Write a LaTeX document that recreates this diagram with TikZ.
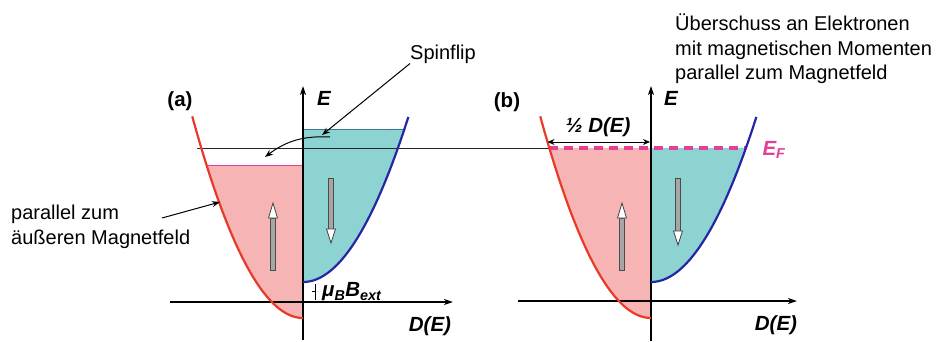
\documentclass[tikz,border=0pt]{standalone}
\usepackage{fontspec}
\setmainfont{Liberation Sans}
\usepackage{tikz}
\usetikzlibrary{arrows.meta, positioning}
\usepackage{xcolor}
\definecolor{upfill}{RGB}{246,180,180}
\definecolor{downfill}{RGB}{140,211,209}
\definecolor{upline}{RGB}{232,58,40}
\definecolor{downline}{RGB}{38,38,165}
\definecolor{fermi}{RGB}{228,64,150}
\definecolor{teallid}{RGB}{60,120,150}

\begin{document}
\begin{tikzpicture}[x=1pt, y=-1pt,
    txt/.style={font=\fontsize{20}{24.5}\selectfont, inner sep=0pt},
    lab/.style={font=\fontsize{20.5}{24}\selectfont\bfseries\itshape, inner sep=0pt},
    tag/.style={font=\fontsize{20.5}{24}\selectfont\bfseries, inner sep=0pt},
    ax/.style={-{Stealth[length=9pt, width=6pt, inset=2.5pt]}, line width=1.6pt},
    ptr/.style={-{Stealth[length=8pt, width=6pt]}, line width=1pt},
    upcurve/.style={upline, line width=2.2pt},
    downcurve/.style={downline, line width=2.2pt},
    shaft/.style={fill=gray!70, draw=black!70, line width=0.8pt},
    head/.style={fill=white, draw=black!75, line width=0.8pt},
]
  \useasboundingbox (0,0) rectangle (947,341);

  % Panel (a): filled bands
  \fill[upfill] (303,318) -- plot[domain=0:12.37, samples=40]
    ({303-7.8*\x},{318-\x*\x}) -- (303,165) -- cycle;
  \fill[downfill] (303,282) -- plot[domain=0:12.37, samples=40]
    ({303+8.2*\x},{282-\x*\x}) -- (303,129) -- cycle;
  \draw[fermi, line width=1pt] (206.5,165) -- (303,165);
  \draw[teallid, line width=1pt] (303,129) -- (404.4,129);

  % Panel (b): filled bands up to E_F
  \fill[upfill] (651,318) -- plot[domain=0:13.04, samples=40]
    ({651-7.8*\x},{318-\x*\x}) -- (651,148) -- cycle;
  \fill[downfill] (651,282) -- plot[domain=0:11.58, samples=40]
    ({651+8.2*\x},{282-\x*\x}) -- (651,148) -- cycle;

  % Common Fermi level
  \coordinate (fa) at (197,148);
  \coordinate (fb) at (549.3,148);
  \coordinate (fc) at (746,148);
  \draw[black!85, line width=1pt] (fa) -- (fb);
  \draw[fermi, line width=3.6pt, dash pattern=on 9pt off 6pt] (fb) -- (fc);

  % Axes
  \coordinate (oa) at (303,302);
  \coordinate (ob) at (651,301);
  \draw[ax] (303,340) -- (303,86);
  \draw[ax] (170,302) -- (453,302);
  \draw[ax] (651,341) -- (651,86);
  \draw[ax] (518,301) -- (797,301);

  % Density of states curves
  \draw[upcurve] plot[domain=0:14.2, samples=50] ({303-7.8*\x},{318-\x*\x});
  \draw[downcurve] plot[domain=0:12.85, samples=50] ({303+8.2*\x},{282-\x*\x});
  \draw[upcurve] plot[domain=0:14.2, samples=50] ({651-7.8*\x},{318-\x*\x});
  \draw[downcurve] plot[domain=0:12.85, samples=50] ({651+8.2*\x},{282-\x*\x});

  % Spin arrows
  \foreach \x/\ya/\yc/\yb in {273/270/218/203, 331/178/229/243,
                              622/270/218/203, 678/178/231/245} {
    \filldraw[shaft] (\x-2.5,\ya) rectangle (\x+2.5,\yc);
    \filldraw[head] (\x-4.5,\yc) -- (\x,\yb) -- (\x+4.5,\yc) -- cycle;
  }

  % Labels
  \node[tag] (lbla) at (180,101) {(a)};
  \node[tag] (lblb) at (507,102) {(b)};
  \node[lab] (Ea) at (324,98) {E};
  \node[lab] (Eb) at (671,98) {E};
  \node[lab] (DEa) at (430,326) {D(E)};
  \node[lab] (DEb) at (776,325) {D(E)};
  \node[lab, text=fermi] (EF) at (774,150) {E\textsubscript{F}};

  % Zeeman gap
  \draw[line width=0.9pt] (315,284) -- (315,300);
  \draw[line width=0.9pt] (312,291) -- (315,291);
  \node[lab, anchor=west] (muB) at (322,292) {μ\textsubscript{B}B\textsubscript{ext}};

  % Half width arrow
  \coordinate (ha) at (547.5,142);
  \coordinate (hb) at (650,142);
  \draw[{Stealth[length=7pt, width=6pt]}-{Stealth[length=7pt, width=6pt]}, line width=1pt] (ha) -- (hb);
  \node[lab] (half) at (598,127) {½ D(E)};

  % Spinflip
  \node[txt] (spin) at (443,54) {Spinflip};
  \coordinate (sftip) at (322,135);
  \coordinate (sfa) at (330,137);
  \coordinate (sfb) at (265,157);
  \draw[ptr] (spin.south west) -- (sftip);
  \draw[ptr] (sfa) to[bend right=20] (sfb);

  % Side texts
  \node[txt, align=left, anchor=west] (par) at (11,227)
    {parallel zum\\äußeren Magnetfeld};
  \coordinate (pa) at (162,218);
  \coordinate (pb) at (220,202);
  \draw[ptr] (pa) -- (pb);
  \node[txt, align=left, anchor=north west] (excess) at (675,14)
    {Überschuss an Elektronen\\mit magnetischen Momenten\\parallel zum Magnetfeld};

\end{tikzpicture}
\end{document}
